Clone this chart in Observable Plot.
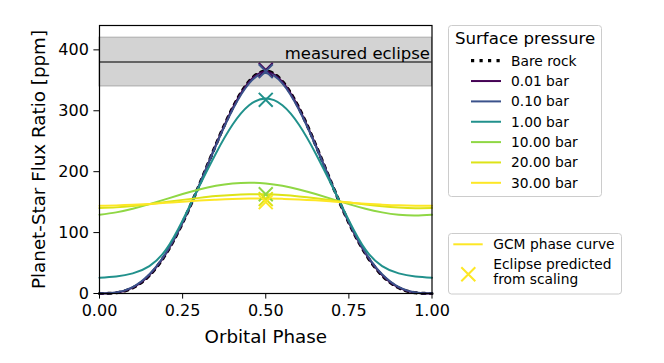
<!DOCTYPE html>
<html><head><meta charset="utf-8">
<script src="https://cdn.jsdelivr.net/npm/d3@7"></script>
<script src="https://cdn.jsdelivr.net/npm/@observablehq/plot@0.6"></script>
<style>
body{margin:0;background:#fff;font-family:"DejaVu Sans",sans-serif;}
#wrap{position:relative;width:664px;height:363px;overflow:hidden;}
#wrap svg{position:absolute;left:0;top:0;}
</style></head><body><div id="wrap"></div>
<script>
// ---- data ----
const phase = [0,0.05,0.1,0.15,0.2,0.25,0.3,0.35,0.4,0.45,0.5,0.55,0.6,0.65,0.7,0.75,0.8,0.85,0.9,0.95,1];
const bareRock = [0,1.2,9.3,29.6,65.3,116.2,178.2,244.2,304.5,348.3,365,348.3,304.5,244.2,178.2,116.2,65.3,29.6,9.3,1.2,0];
const p001 = [0,1.3,9.6,30.2,65.8,116.5,178,243.8,303.8,347.4,364.2,347.4,303.8,243.8,178,116.5,65.8,30.2,9.6,1.3,0];
const p010 = [0.3,1.8,10.6,31.5,67,117.3,178,242.6,301.6,345,362,345,301.6,242.6,178,117.3,67,31.5,10.6,1.8,0.3];
const p1 = [26,28,33,45,72,120,176,230,277,309,320,309,277,230,176,120,72,45,33,28,26];
const p10 = [129.3,133.2,139.1,146.7,155,163.3,170.9,176.8,180.7,182,180.7,176.8,170.9,163.3,155,146.7,139.1,133.2,129.3,128,129.3];
const p20 = [140.2,141.4,143.6,146.6,150.1,153.7,157,159.9,161.9,162.9,162.8,161.6,159.4,156.4,152.9,149.4,146,143.1,141.1,140.1,140.2];
const p30 = [144,144.6,145.6,147.1,148.9,150.8,152.6,154.1,155.3,155.9,156,155.4,154.4,152.9,151.1,149.3,147.4,145.9,144.7,144.1,144];
const seriesNames = ["0.01 bar","0.10 bar","1.00 bar","10.00 bar","20.00 bar","30.00 bar"];
const seriesColors = ["#440154","#3b528b","#21918c","#8fd744","#dde318","#fde725"];
const eclipsePhase = 0.5;
const eclipsePredicted = [367,365,318,163,155,150];
const measuredEclipse = [380];
const measuredLow = [340];
const measuredHigh = [420];
const xDomain = [0,1];
const yDomain = [0,440];
const xTicks = [0,0.25,0.5,0.75,1];
const yTicks = [0,100,200,300,400];

// ---- tables ----
const allSeries = [p001,p010,p1,p10,p20,p30];
const rows = seriesNames.flatMap((name,k) => phase.map((p,i) => ({phase:p, value:allSeries[k][i], series:name})));
const bareRows = phase.map((p,i) => ({phase:p, value:bareRock[i]}));
const eclipseRows = seriesNames.map((name,k) => ({phase:eclipsePhase, value:eclipsePredicted[k], series:name}));
const band = measuredLow.map((lo,i) => ({x1:xDomain[0], x2:xDomain[1], lo, hi:measuredHigh[i]}));

const chart = Plot.plot({
  width:664, height:363,
  marginLeft:99, marginRight:232.5, marginTop:25, marginBottom:70,
  style:{fontFamily:"DejaVu Sans, sans-serif", fontSize:"16px", color:"#000", background:"transparent"},
  x:{domain:xDomain},
  y:{domain:yDomain},
  color:{domain:seriesNames, range:seriesColors},
  marks:[
    Plot.rect(band, {x1:"x1", x2:"x2", y1:"lo", y2:"hi", fill:"#d3d3d3", stroke:"#aaaaaa", strokeWidth:1}),
    Plot.ruleY(measuredEclipse, {stroke:"#3f3f3f", strokeWidth:1.6}),
    Plot.text(measuredEclipse, {x:xDomain[1], y:d=>d, text:()=>"measured eclipse", textAnchor:"end", lineAnchor:"bottom", dx:-2, dy:-3, fontSize:16.5, fill:"#000"}),
    Plot.line(bareRows, {x:"phase", y:"value", stroke:"black", strokeWidth:3.2, strokeDasharray:"3.2,5.3", curve:"natural"}),
    Plot.line(rows, {x:"phase", y:"value", z:"series", stroke:"series", strokeWidth:2, curve:"natural"}),
    Plot.dot(eclipseRows, {x:"phase", y:"value", stroke:"series", symbol:"times", r:6.4, strokeWidth:2}),
    Plot.frame({stroke:"black", strokeWidth:1.2}),
    Plot.axisX({ticks:xTicks, tickFormat:d3.format(".2f"), tickSize:5.6, tickPadding:6, label:null}),
    Plot.axisY({ticks:yTicks, tickFormat:d3.format("d"), tickSize:5.6, tickPadding:5, label:null}),
    Plot.text(["Orbital Phase"], {frameAnchor:"bottom", textAnchor:"middle", lineAnchor:"middle", dy:43.5, fontSize:18.3}),
    Plot.text(["Planet-Star Flux Ratio [ppm]"], {frameAnchor:"left", textAnchor:"middle", lineAnchor:"middle", rotate:-90, dx:-60, fontSize:18.3})
  ]
});
document.getElementById("wrap").appendChild(chart);

// ---- legends ----
const leg = d3.select("#wrap").append("svg").attr("width",664).attr("height",363)
  .style("font-family","DejaVu Sans, sans-serif");
// legend 1
leg.append("rect").attr("x",448.5).attr("y",25.5).attr("width",153).attr("height",171).attr("rx",3)
  .attr("fill","rgba(255,255,255,0.8)").attr("stroke","#cccccc");
leg.append("text").attr("x",455).attr("y",44).attr("font-size",16.6).text("Surface pressure");
const legendLabels = ["Bare rock"].concat(seriesNames);
const legendColors = ["black"].concat(seriesColors);
legendLabels.forEach((lab,i) => {
  const yc = 60.7 + i*20.35;
  const ln = leg.append("line").attr("x1",471).attr("x2",501).attr("y1",yc).attr("y2",yc)
    .attr("stroke",legendColors[i]).attr("stroke-width", i===0 ? 3.2 : 2);
  if (i===0) ln.attr("stroke-dasharray","3.2,5.3");
  leg.append("text").attr("x",511).attr("y",yc+4.8).attr("font-size",13.8).text(lab);
});
// legend 2
leg.append("rect").attr("x",448.5).attr("y",233.5).attr("width",173).attr("height",60.5).attr("rx",3)
  .attr("fill","rgba(255,255,255,0.8)").attr("stroke","#cccccc");
leg.append("line").attr("x1",453.3).attr("x2",482.7).attr("y1",244.3).attr("y2",244.3)
  .attr("stroke",seriesColors[5]).attr("stroke-width",2);
leg.append("text").attr("x",493.3).attr("y",249).attr("font-size",13.8).text("GCM phase curve");
leg.append("path").attr("d","M461.3,267.3L475.3,281.3M461.3,281.3L475.3,267.3")
  .attr("stroke",seriesColors[5]).attr("stroke-width",2).attr("fill","none");
const ecl = leg.append("text").attr("x",493.3).attr("y",269.3).attr("font-size",13.8);
ecl.append("tspan").attr("x",493.3).text("Eclipse predicted");
ecl.append("tspan").attr("x",493.3).attr("dy",14.2).text("from scaling");
</script></body></html>
